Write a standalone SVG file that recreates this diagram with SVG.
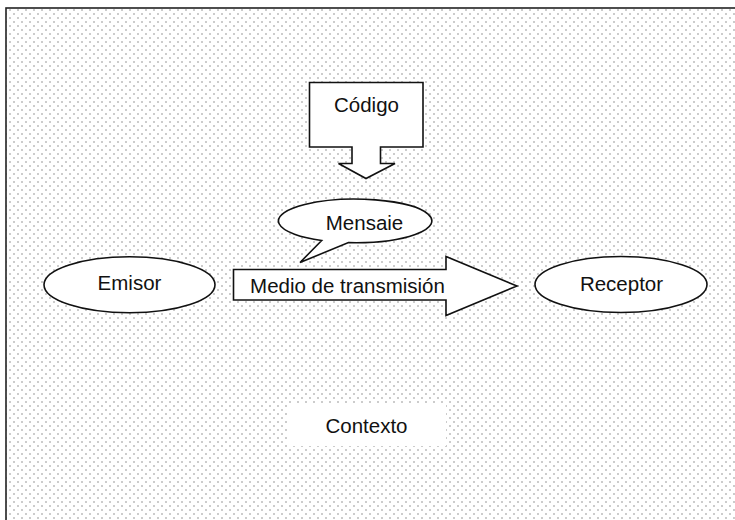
<svg xmlns="http://www.w3.org/2000/svg" width="735" height="520" viewBox="0 0 735 520">
  <defs>
    <pattern id="dots" x="0" y="0" width="8" height="8" patternUnits="userSpaceOnUse">
      <circle cx="2" cy="2" r="0.8" fill="#8a8a8a"/>
      <circle cx="6" cy="6" r="0.8" fill="#8a8a8a"/>
    </pattern>
  </defs>
  <style>
    .shape { fill: #ffffff; stroke: #111111; stroke-width: 1.6; stroke-linejoin: miter; }
    .label { font-family: "Liberation Sans", Arial, sans-serif; font-size: 20.5px; fill: #111111; text-anchor: middle; }
  </style>
  <rect x="0" y="0" width="735" height="520" fill="#ffffff"/>
  <g id="contexto-marco">
    <rect x="6" y="8" width="740" height="530" fill="url(#dots)" stroke="#222222" stroke-width="1.6"/>
  </g>
  <g id="contexto">
    <rect x="287" y="404" width="159" height="42" fill="#ffffff"/>
    <text class="label" x="366.5" y="432.5">Contexto</text>
  </g>
  <g id="codigo">
    <path class="shape" d="M309.5,82.5 H423 V147 H380.5 V163.5 H395 L366,178.5 L338.5,163.5 H352 V147 H309.5 Z"/>
    <text class="label" x="366.5" y="111.5">Código</text>
  </g>
  <g id="mensaje">
    <path class="shape" d="M321.7,240.5 L300,262.5 L348.5,242.6 A76.7,21.8 0 1 0 321.7,240.5 Z"/>
    <text class="label" x="364.5" y="230">Mensaie</text>
  </g>
  <g id="emisor">
    <ellipse class="shape" cx="129.5" cy="284.7" rx="85.5" ry="28"/>
    <text class="label" x="129.5" y="290">Emisor</text>
  </g>
  <g id="receptor">
    <ellipse class="shape" cx="621" cy="284.5" rx="86" ry="28"/>
    <text class="label" x="621.5" y="290.5">Receptor</text>
  </g>
  <g id="connectors">
    <g id="medio">
      <path class="shape" d="M233.5,269.5 H446 V256.5 L517,286 L446,315.5 V300 H233.5 Z"/>
      <text class="label" x="347.5" y="292.5">Medio de transmisión</text>
    </g>
  </g>
</svg>
